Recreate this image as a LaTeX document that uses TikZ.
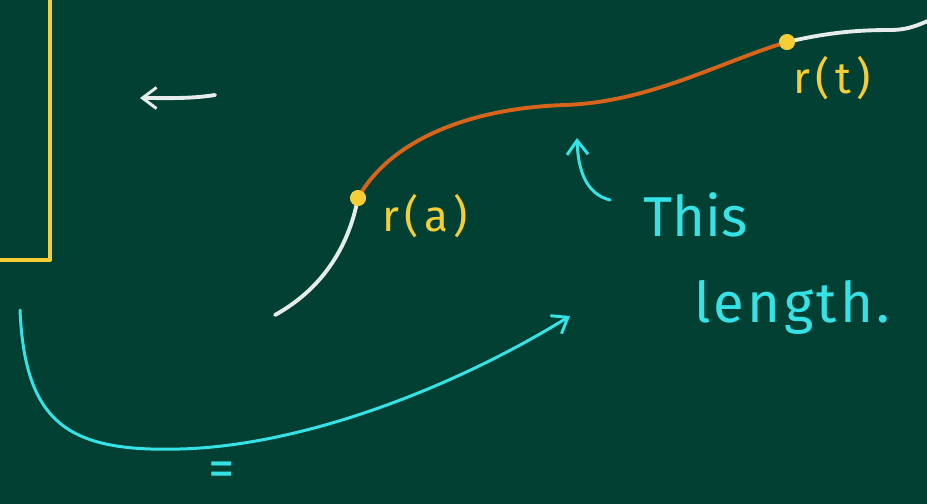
\documentclass[tikz,border=0pt]{standalone}
\usepackage{fontspec}
\setmainfont{Fira Sans}
\usetikzlibrary{arrows.meta,calc}

\definecolor{board}{HTML}{024034}
\definecolor{chalkyellow}{HTML}{F5CE35}
\definecolor{chalkorange}{HTML}{D8641C}
\definecolor{chalkwhite}{HTML}{E6ECE9}
\definecolor{chalkcyan}{HTML}{35E3E6}

\begin{document}
\begin{tikzpicture}[
  x=0.02cm, y=-0.02cm,
  chalk/.style={line width=2.2pt, line cap=round, line join=round},
  thin chalk/.style={line width=1.7pt, line cap=round, line join=round},
  dot/.style={circle, fill=chalkyellow, inner sep=0pt, minimum size=9pt},
  tip/.style={-{Straight Barb[length=8pt,width=12pt,line width=1.7pt]}},
  label/.style={text=chalkyellow, font=\fontsize{25}{28}\selectfont\addfontfeatures{LetterSpace=12}, inner sep=0pt},
  note/.style={text=chalkcyan, font=\fontsize{32}{36}\selectfont, inner sep=0pt, anchor=base west}
]

\fill[board] (0,0) rectangle (927,504);
\clip (0,0) rectangle (927,504);

%================================================
% LEFT:  box and small arrow
%================================================
\draw[chalk, chalkyellow] (50,-5) -- (50,260) -- (-5,260);

\coordinate (wa) at (215,95);
\coordinate (wb) at (140,98);
\draw[chalk, chalkwhite, tip] (wa) .. controls (190,99) and (165,98) .. (wb);

%================================================
% CURVE:  r(a) to r(t)
%================================================
\node[dot] (ra) at (358,198) {};
\node[dot] (rt) at (787,42) {};

\draw[chalk, chalkwhite] (275,315) .. controls (320,290) and (348,250) .. (ra.center);
\draw[chalk, chalkorange] (ra.center) .. controls (390,140) and (470,108) .. (565,105)
  .. controls (650,102) and (720,62) .. (rt.center);
\draw[chalk, chalkwhite] (rt.center) .. controls (830,32) and (860,30) .. (890,30)
  .. controls (910,30) and (920,24) .. (935,18);
\node[dot] at (ra) {};
\node[dot] at (rt) {};

\node[label, anchor=west] (la) at (382,216) {r(a)};
\node[label, anchor=west] (lt) at (793,78) {r(t)};

%================================================
% RIGHT:  this length
%================================================
\node[note] (this) at (643,236) {This};
\node[note, font=\fontsize{32}{36}\selectfont\addfontfeatures{LetterSpace=6}] (len) at (694,322) {length.};

\coordinate (pa) at (610,200);
\coordinate (pb) at (577,138);
\draw[thin chalk, chalkcyan, tip] (pa) .. controls (586,194) and (578,170) .. (pb);

%================================================
% BOTTOM:  long arrow and equals
%================================================
\coordinate (ca) at (20,310);
\coordinate (cb) at (570,316);
\draw[thin chalk, chalkcyan, tip] (ca) .. controls (25,425) and (70,452) .. (180,449)
  .. controls (300,446) and (450,390) .. (cb);

\node[text=chalkcyan, font=\fontsize{30}{32}\selectfont, inner sep=0pt] (eq) at (222,474) {=};

\end{tikzpicture}
\end{document}
